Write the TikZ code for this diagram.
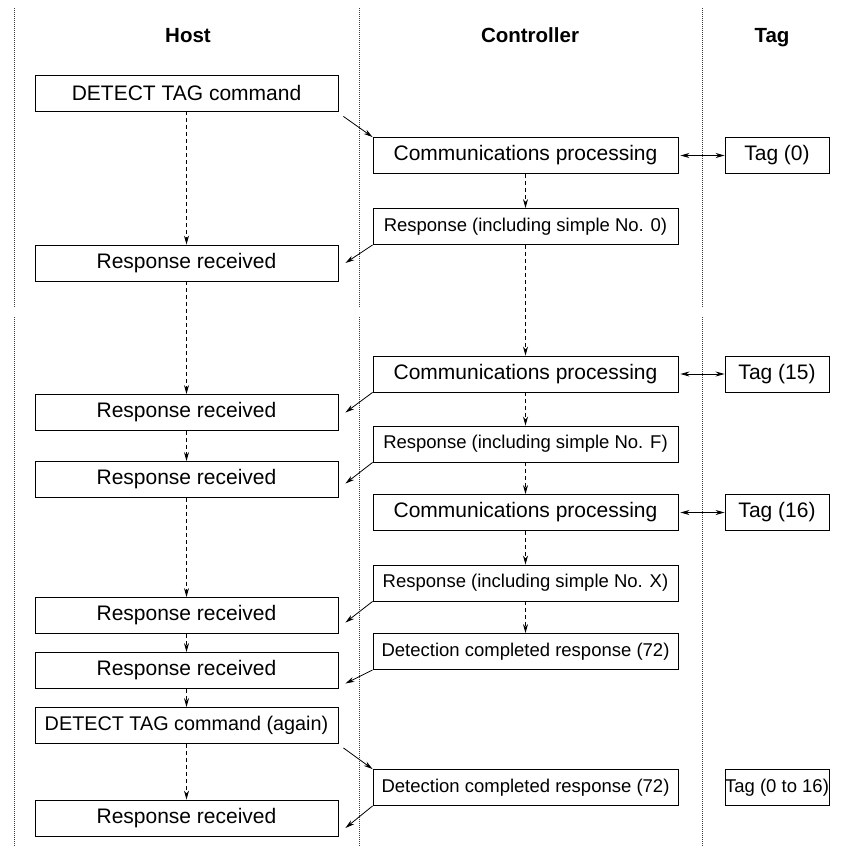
\documentclass[tikz,border=0pt]{standalone}
\usepackage{fontspec}
\setmainfont{Liberation Sans}
\usetikzlibrary{arrows.meta, calc}
\definecolor{lanegray}{HTML}{3A3A3A}

\tikzset{
  box/.style={draw, line width=0.9pt, inner sep=0pt, minimum height=36pt, font=\fontsize{21}{24}\selectfont},
  hostbox/.style={box, minimum width=303pt},
  ctrlbox/.style={box, minimum width=305pt},
  tagbox/.style={box, minimum width=104pt},
  smalltext/.style={font=\fontsize{18.5}{22}\selectfont},
  head/.style={anchor=base, font=\fontsize{20.5}{24}\selectfont\bfseries},
  lane/.style={lanegray, line width=1pt, densely dotted},
  flow/.style={line width=0.8pt, dash pattern=on 4pt off 3pt, -{Stealth[length=9pt,width=5pt]}},
  msg/.style={line width=0.8pt, -{Stealth[length=9pt,width=5pt]}},
  link/.style={line width=0.8pt, {Stealth[length=9pt,width=5pt]}-{Stealth[length=9pt,width=5pt]}}
}

\begin{document}
\begin{tikzpicture}[x=1pt, y=-1pt]
\useasboundingbox (0,0) rectangle (842,846);
% swim lanes
\foreach \x in {14,359,702} {
  \draw[lane] (\x,8) -- (\x,307);
  \draw[lane] (\x,317) -- (\x,846);
}
\node[head] (hhost) at (188,42) {Host};
\node[head] (hctrl) at (530,42) {Controller};
\node[head] (htag) at (772,42) {Tag};

% host column
\node[hostbox] (cmd) at (186.5,93) {DETECT TAG command};
\node[hostbox] (rr1) at (186.5,263) {Response received};
\node[hostbox] (rr2) at (186.5,412.5) {Response received};
\node[hostbox] (rr3) at (186.5,479.5) {Response received};
\node[hostbox] (rr4) at (186.5,615.5) {Response received};
\node[hostbox] (rr5) at (186.5,670.5) {Response received};
\node[hostbox, font=\fontsize{19.8}{23}\selectfont] (cmd2) at (186.5,725.5) {DETECT TAG command (again)};
\node[hostbox] (rr6) at (186.5,818) {Response received};

% controller column
\node[ctrlbox] (cp1) at (525.5,155.5) {Communications processing};
\node[ctrlbox, smalltext] (rs0) at (525.5,226.5) {Response (including simple No. 0)};
\node[ctrlbox] (cp2) at (525.5,374) {Communications processing};
\node[ctrlbox, smalltext] (rsF) at (525.5,444) {Response (including simple No. F)};
\node[ctrlbox] (cp3) at (525.5,512.5) {Communications processing};
\node[ctrlbox, smalltext] (rsX) at (525.5,583) {Response (including simple No. X)};
\node[ctrlbox, smalltext] (dc1) at (525.5,651.5) {Detection completed response (72)};
\node[ctrlbox, smalltext] (dc2) at (525.5,787.5) {Detection completed response (72)};

% tag column
\node[tagbox] (tg0) at (777,155.5) {Tag (0)};
\node[tagbox] (tg15) at (777,374) {Tag (15)};
\node[tagbox] (tg16) at (777,512.5) {Tag (16)};
\node[tagbox, smalltext] (tgall) at (777,787.5) {Tag (0 to 16)};

% flow inside columns
\foreach \a/\b in {cmd/rr1, rr1/rr2, rr2/rr3, rr3/rr4, rr4/rr5, rr5/cmd2, cmd2/rr6,
                   cp1/rs0, rs0/cp2, cp2/rsF, rsF/cp3, cp3/rsX, rsX/dc1}
  \draw[flow] (\a.south) -- (\b.north);

% commands to controller
\draw[msg] ($(cmd.south east)+(5,5)$) -- (cp1.north west);
\draw[msg] ($(cmd2.south east)+(5,4)$) -- (dc2.north west);

% responses back to host
\foreach \a/\b/\dy in {rs0/rr1/0, cp2/rr2/0, rsF/rr3/4, rsX/rr4/7, dc1/rr5/13, dc2/rr6/10}
  \draw[msg] (\a.south west) -- ($(\b.east)+(7,\dy)$);

% controller <-> tag
\foreach \a/\b in {cp1/tg0, cp2/tg15, cp3/tg16}
  \draw[link] ($(\a.east)+(2,0)$) -- (\b.west);
\end{tikzpicture}
\end{document}
